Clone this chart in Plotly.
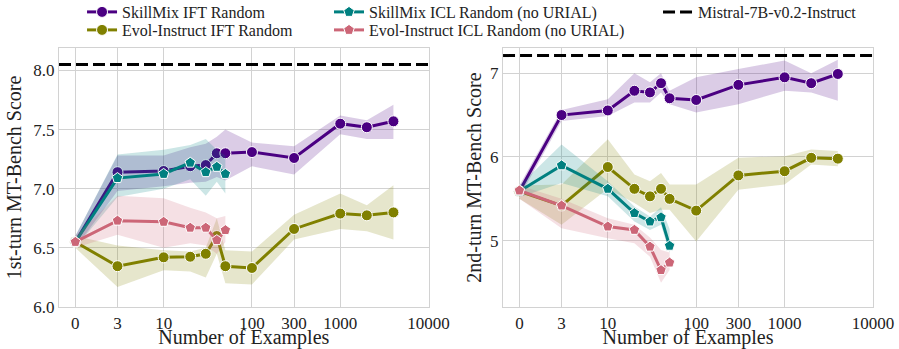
import plotly.graph_objects as go

# ---------------- data ----------------
X_IFT = [0, 3, 10, 20, 30, 40, 50, 100, 300, 1000, 2000, 4000]
X_ICL = [0, 3, 10, 20, 30, 40, 50]
X_TICKS = [0, 3, 10, 100, 300, 1000, 10000]
X_TICK_LABELS = ["0", "3", "10", "100", "300", "1000", "10000"]

# 1st turn
SKILL_IFT_1 = [6.55, 7.14, 7.15, 7.19, 7.20, 7.30, 7.30, 7.31, 7.26, 7.55, 7.52, 7.57]
SKILL_IFT_1_LO = [6.50, 6.98, 7.02, 7.05, 7.06, 7.10, 7.07, 7.19, 7.12, 7.46, 7.42, 7.42]
SKILL_IFT_1_HI = [6.60, 7.28, 7.28, 7.35, 7.38, 7.44, 7.50, 7.39, 7.36, 7.62, 7.58, 7.71]

EVOL_IFT_1 = [6.55, 6.345, 6.42, 6.425, 6.45, 6.60, 6.345, 6.33, 6.66, 6.79, 6.775, 6.80]
EVOL_IFT_1_LO = [6.50, 6.17, 6.31, 6.30, 6.25, 6.45, 6.20, 6.19, 6.57, 6.66, 6.64, 6.57]
EVOL_IFT_1_HI = [6.60, 6.52, 6.48, 6.47, 6.50, 6.75, 6.48, 6.47, 6.78, 6.96, 6.86, 7.03]

SKILL_ICL_1 = [6.55, 7.09, 7.125, 7.22, 7.14, 7.185, 7.125]
SKILL_ICL_1_LO = [6.50, 6.93, 7.00, 7.08, 6.94, 7.06, 6.96]
SKILL_ICL_1_HI = [6.60, 7.29, 7.33, 7.37, 7.42, 7.33, 7.28]

EVOL_ICL_1 = [6.55, 6.73, 6.72, 6.67, 6.67, 6.565, 6.65]
EVOL_ICL_1_LO = [6.50, 6.61, 6.50, 6.54, 6.52, 6.45, 6.55]
EVOL_ICL_1_HI = [6.60, 6.94, 6.92, 6.84, 6.80, 6.75, 6.77]

# 2nd turn
SKILL_IFT_2 = [5.59, 6.50, 6.555, 6.79, 6.77, 6.88, 6.70, 6.68, 6.86, 6.95, 6.88, 6.99]
SKILL_IFT_2_LO = [5.52, 6.43, 6.49, 6.65, 6.65, 6.77, 6.63, 6.53, 6.63, 6.79, 6.77, 6.67]
SKILL_IFT_2_HI = [5.66, 6.56, 6.69, 7.00, 6.89, 7.00, 6.79, 6.95, 7.05, 7.15, 7.00, 7.16]

EVOL_IFT_2 = [5.59, 5.42, 5.88, 5.62, 5.53, 5.62, 5.50, 5.36, 5.78, 5.83, 5.99, 5.98]
EVOL_IFT_2_LO = [5.50, 5.19, 5.62, 5.45, 5.33, 5.37, 5.37, 4.99, 5.61, 5.67, 5.91, 5.89]
EVOL_IFT_2_HI = [5.66, 5.67, 6.21, 5.79, 5.71, 5.81, 5.67, 5.67, 5.99, 6.01, 6.09, 6.07]

SKILL_ICL_2 = [5.59, 5.90, 5.62, 5.33, 5.23, 5.28, 4.94]
SKILL_ICL_2_LO = [5.52, 5.69, 5.53, 5.23, 5.13, 5.19, 4.85]
SKILL_ICL_2_HI = [5.66, 6.15, 5.71, 5.41, 5.29, 5.40, 5.14]

EVOL_ICL_2 = [5.60, 5.42, 5.17, 5.13, 4.93, 4.65, 4.74]
EVOL_ICL_2_LO = [5.50, 5.15, 5.03, 4.97, 4.81, 4.50, 4.65]
EVOL_ICL_2_HI = [5.66, 5.50, 5.27, 5.19, 5.04, 4.89, 4.86]

MISTRAL_1 = 8.05
MISTRAL_2 = 7.21

# ---------------- styling ----------------
FONT = "Liberation Serif"
TXT = "#222222"
PURPLE = "#4B0082"
OLIVE = "#808000"
TEAL = "#008080"
PINK = "#CC6677"
GRID = "#d2d2d2"
XLOG_RANGE = [-0.185, 4.0]


def xpos(xs):
    # 0 examples is drawn at 1 on the log axis (labelled "0")
    return [x if x > 0 else 1 for x in xs]


def rgba(hex_color, a):
    h = hex_color.lstrip("#")
    r, g, b = int(h[0:2], 16), int(h[2:4], 16), int(h[4:6], 16)
    return f"rgba({r},{g},{b},{a})"


fig = go.Figure()

series = [
    # name, x, turn1 (y, lo, hi), turn2 (y, lo, hi), color, symbol, legend id
    ("SkillMix IFT Random", X_IFT, (SKILL_IFT_1, SKILL_IFT_1_LO, SKILL_IFT_1_HI),
     (SKILL_IFT_2, SKILL_IFT_2_LO, SKILL_IFT_2_HI), PURPLE, "circle", "legend"),
    ("Evol-Instruct IFT Random", X_IFT, (EVOL_IFT_1, EVOL_IFT_1_LO, EVOL_IFT_1_HI),
     (EVOL_IFT_2, EVOL_IFT_2_LO, EVOL_IFT_2_HI), OLIVE, "circle", "legend2"),
    ("SkillMix ICL Random (no URIAL)", X_ICL, (SKILL_ICL_1, SKILL_ICL_1_LO, SKILL_ICL_1_HI),
     (SKILL_ICL_2, SKILL_ICL_2_LO, SKILL_ICL_2_HI), TEAL, "pentagon", "legend3"),
    ("Evol-Instruct ICL Random (no URIAL)", X_ICL, (EVOL_ICL_1, EVOL_ICL_1_LO, EVOL_ICL_1_HI),
     (EVOL_ICL_2, EVOL_ICL_2_LO, EVOL_ICL_2_HI), PINK, "pentagon", "legend4"),
]

for name, xs, t1, t2, color, sym, leg in series:
    for k, (vals, xa, ya) in enumerate([(t1, "x", "y"), (t2, "x2", "y2")]):
        y, lo, hi = vals
        xp = xpos(xs)
        fig.add_trace(go.Scatter(
            x=xp + xp[::-1], y=hi + lo[::-1], fill="toself",
            fillcolor=rgba(color, 0.2), line=dict(width=0), mode="lines",
            hoverinfo="skip", showlegend=False, xaxis=xa, yaxis=ya))
        fig.add_trace(go.Scatter(
            x=xp, y=y, mode="lines+markers", name=name,
            line=dict(color=color, width=3),
            marker=dict(symbol=sym, size=11, color=color, line=dict(color="white", width=1)),
            showlegend=(k == 0), legend=leg, xaxis=xa, yaxis=ya))

# reference lines spanning the whole axis range
x_ext = [10 ** XLOG_RANGE[0], 10 ** XLOG_RANGE[1]]
fig.add_trace(go.Scatter(x=x_ext, y=[MISTRAL_1, MISTRAL_1], mode="lines",
                         name="Mistral-7B-v0.2-Instruct",
                         line=dict(color="black", width=3, dash="12px,5px"),
                         legend="legend5", xaxis="x", yaxis="y"))
fig.add_trace(go.Scatter(x=x_ext, y=[MISTRAL_2, MISTRAL_2], mode="lines",
                         name="Mistral-7B-v0.2-Instruct", showlegend=False,
                         line=dict(color="black", width=3, dash="12px,5px"),
                         xaxis="x2", yaxis="y2"))

xcommon = dict(type="log", range=XLOG_RANGE, tickvals=xpos(X_TICKS), ticktext=X_TICK_LABELS,
               showgrid=True, gridcolor=GRID, gridwidth=1, showline=True, mirror=True,
               linecolor=GRID, linewidth=1.2, zeroline=False, ticks="",
               tickfont=dict(family=FONT, size=17, color=TXT),
               title=dict(text="Number of Examples", font=dict(family=FONT, size=20, color=TXT),
                          standoff=8),
               automargin=False)
ycommon = dict(showgrid=True, gridcolor=GRID, gridwidth=1, showline=True, mirror=True,
               linecolor=GRID, linewidth=1.2, zeroline=False, ticks="",
               tickfont=dict(family=FONT, size=17, color=TXT), automargin=False)

legend_common = dict(orientation="v", bgcolor="rgba(0,0,0,0)",
                     font=dict(family=FONT, size=16, color=TXT),
                     yanchor="middle", xanchor="left", itemwidth=30)

# legend rows / columns in paper units (plot area: 59..873 px wide, 48..307 px tall)
ROW1, ROW2 = 1.139, 1.0695
COL1, COL2, COL3 = 0.0283, 0.3317, 0.7359

fig.update_layout(
    width=899, height=349,
    margin=dict(l=59, r=26, t=48, b=42, autoexpand=False),
    paper_bgcolor="white", plot_bgcolor="white",
    font=dict(family=FONT, color=TXT),
    xaxis=dict(domain=[0, 0.454], anchor="y", **xcommon),
    xaxis2=dict(domain=[0.5455, 1.0], anchor="y2", **xcommon),
    yaxis=dict(domain=[0, 1], anchor="x", range=[6.0, 8.19], tickvals=[6.0, 6.5, 7.0, 7.5, 8.0],
               tickformat=".1f",
               title=dict(text="1st-turn MT-Bench Score", standoff=6,
                          font=dict(family=FONT, size=20, color=TXT)),
               **ycommon),
    yaxis2=dict(domain=[0, 1], anchor="x2", range=[4.21, 7.30], tickvals=[5, 6, 7],
                title=dict(text="2nd-turn MT-Bench Score", standoff=3,
                           font=dict(family=FONT, size=20, color=TXT)),
                **ycommon),
    legend=dict(x=COL1, y=ROW1, **legend_common),
    legend2=dict(x=COL1, y=ROW2, **legend_common),
    legend3=dict(x=COL2, y=ROW1, **legend_common),
    legend4=dict(x=COL2, y=ROW2, **legend_common),
    legend5=dict(x=COL3, y=ROW1, **legend_common),
    showlegend=True,
)

fig.write_html("out.html", config={"displayModeBar": False},
               post_script="document.body.style.margin='0';document.body.style.overflow='hidden';")
